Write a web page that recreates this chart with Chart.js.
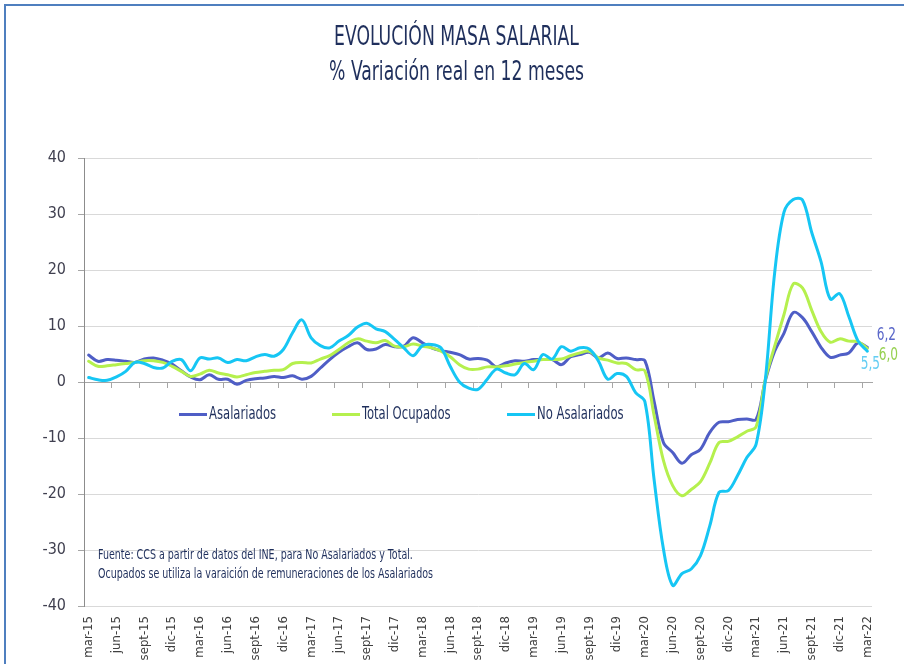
<!DOCTYPE html>
<html>
<head>
<meta charset="utf-8">
<script src="https://cdn.jsdelivr.net/npm/chart.js@4.4.1/dist/chart.umd.min.js"></script>
<style>
  body { margin: 0; background: #fff; }
  #wrap { position: relative; width: 904px; height: 664px; overflow: hidden;
          font-family: "Liberation Sans Narrow", "DejaVu Sans Condensed", sans-serif; color: #1f2f5c; }
  #frame { position: absolute; left: 4px; top: 4px; width: 950px; height: 720px;
           border-top: 2px solid #4f7fbf; border-left: 2px solid #4f7fbf; }
  #myChart { position: absolute; left: 0; top: 0; }
  .title { position: absolute; left: 0; width: 913px; text-align: center; font-size: 27px; line-height: 30px;
           transform: scaleX(0.71); transform-origin: 456.5px 0; }
  .leg { position: absolute; top: 403px; font-size: 17px; line-height: 20px; white-space: nowrap; }
  .leg span { display: inline-block; width: 28px; height: 3px; vertical-align: middle; margin-right: 2px; }
  .leg b { display: inline-block; font-weight: normal; transform: scaleX(0.76); transform-origin: 0 0; }
  #note { position: absolute; left: 98px; top: 545px; font-size: 14px; line-height: 19px; white-space: nowrap;
          transform: scaleX(0.755); transform-origin: 0 0; }
</style>
</head>
<body>
<div id="wrap">
  <div id="frame"></div>
  <canvas id="myChart" width="904" height="664"></canvas>
  <div class="title" style="top:21px">EVOLUCIÓN MASA SALARIAL</div>
  <div class="title" style="top:56px">% Variación real en 12 meses</div>
  <div id="legend"></div>
  <div id="note">Fuente: CCS a partir de datos del INE, para No Asalariados y Total.<br>Ocupados se utiliza la varaición de remuneraciones de los Asalariados</div>
</div>
<script>
// months, mar-15 .. mar-22
var months = [
  'mar-15','abr-15','may-15','jun-15','jul-15','ago-15','sept-15','oct-15','nov-15','dic-15',
  'ene-16','feb-16','mar-16','abr-16','may-16','jun-16','jul-16','ago-16','sept-16','oct-16','nov-16','dic-16',
  'ene-17','feb-17','mar-17','abr-17','may-17','jun-17','jul-17','ago-17','sept-17','oct-17','nov-17','dic-17',
  'ene-18','feb-18','mar-18','abr-18','may-18','jun-18','jul-18','ago-18','sept-18','oct-18','nov-18','dic-18',
  'ene-19','feb-19','mar-19','abr-19','may-19','jun-19','jul-19','ago-19','sept-19','oct-19','nov-19','dic-19',
  'ene-20','feb-20','mar-20','abr-20','may-20','jun-20','jul-20','ago-20','sept-20','oct-20','nov-20','dic-20',
  'ene-21','feb-21','mar-21','abr-21','may-21','jun-21','jul-21','ago-21','sept-21','oct-21','nov-21','dic-21',
  'ene-22','feb-22','mar-22'
];

var asalariados = [
  4.8, 3.7, 4.0, 3.9, 3.7, 3.5, 4.1, 4.3, 3.9, 3.2,
  2.0, 0.9, 0.4, 1.3, 0.5, 0.5, -0.4, 0.3, 0.6, 0.7, 1.0, 0.8,
  1.1, 0.5, 1.0, 2.5, 4.0, 5.3, 6.3, 7.0, 5.8, 5.9, 6.7, 6.3,
  6.4, 7.9, 7.0, 6.1, 5.6, 5.3, 4.9, 4.1, 4.2, 3.9, 2.7, 3.4,
  3.8, 3.7, 4.0, 4.0, 4.0, 3.1, 4.5, 4.9, 5.3, 4.3, 5.2, 4.2,
  4.3, 4.0, 3.8, -3.5, -10.8, -12.6, -14.5, -13.0, -12.0, -9.0, -7.2, -7.1,
  -6.7, -6.6, -6.7, 0.3, 5.5, 8.7, 12.4, 11.5, 9.0, 6.2, 4.4, 4.8,
  5.2, 7.0, 6.2
];

var totalOcupados = [
  3.7, 2.8, 2.9, 3.1, 3.3, 3.5, 3.8, 3.8, 3.5, 2.8,
  1.9, 1.0, 1.4, 2.1, 1.6, 1.3, 0.9, 1.3, 1.7, 1.9, 2.1, 2.2,
  3.3, 3.5, 3.4, 4.1, 4.7, 5.8, 7.0, 7.7, 7.3, 7.0, 7.4, 6.4,
  6.3, 6.8, 6.4, 6.1, 5.5, 4.5, 3.1, 2.3, 2.3, 2.7, 2.7, 2.9,
  3.2, 3.5, 3.7, 4.0, 4.0, 4.1, 4.7, 5.2, 5.5, 4.3, 3.9, 3.4,
  3.3, 2.2, 2.0, -6.0, -14.0, -18.5, -20.3, -19.2, -17.8, -14.5, -10.8, -10.6,
  -9.8, -8.8, -8.0, 0.5, 6.4, 12.0, 17.5, 16.8, 12.8, 9.0, 7.1, 7.7,
  7.3, 7.2, 6.0
];

var noAsalariados = [
  0.8, 0.4, 0.3, 0.9, 1.9, 3.5, 3.3, 2.6, 2.5, 3.7,
  4.0, 2.0, 4.3, 4.1, 4.3, 3.5, 4.0, 3.8, 4.5, 4.9, 4.6, 5.8,
  8.8, 11.1, 7.9, 6.5, 6.1, 7.3, 8.3, 9.8, 10.5, 9.5, 9.0, 7.6,
  6.1, 4.7, 6.5, 6.7, 6.1, 2.8, 0.0, -1.1, -1.3, 0.5, 2.3, 1.6,
  1.3, 3.3, 2.2, 4.9, 4.1, 6.3, 5.5, 6.1, 5.9, 3.7, 0.5, 1.5,
  1.0, -1.9, -3.5, -17.5, -29.8, -36.3, -34.2, -33.4, -31.0, -25.7, -19.7, -19.4,
  -16.7, -13.5, -11.1, 0.5, 19.5, 30.3, 32.6, 32.5, 26.7, 21.5, 14.8, 15.8,
  11.7, 7.3, 5.5
];

var yTicks = [-40, -30, -20, -10, 0, 10, 20, 30, 40];

var seriesNames = ['Asalariados', 'Total Ocupados', 'No Asalariados'];
var seriesColors = ['#4f5ec6', '#b5f04e', '#16c6f4'];
var labelColors = ['#5a67c9', '#95d04f', '#63cdf3'];

var fontFam = '"Liberation Sans Narrow", "DejaVu Sans Condensed", sans-serif';

// legend inside the plot
var legendLeft = [179, 332, 507];
var legHtml = '';
for (var i = 0; i < seriesNames.length; i++) {
  legHtml += '<div class="leg" style="left:' + legendLeft[i] + 'px"><span style="background:' +
    seriesColors[i] + '"></span><b>' + seriesNames[i] + '</b></div>';
}
document.getElementById('legend').innerHTML = legHtml;

// value labels at the last point of each line
var endLabels = {
  id: 'endLabels',
  afterDatasetsDraw: function (chart) {
    var ctx = chart.ctx;
    var off = [[19, -12], [21, 7], [3, 13]];
    chart.data.datasets.forEach(function (ds, k) {
      var meta = chart.getDatasetMeta(k);
      var pt = meta.data[meta.data.length - 1];
      var v = ds.data[ds.data.length - 1];
      ctx.save();
      ctx.translate(pt.x + off[k][0], pt.y + off[k][1]);
      ctx.scale(0.75, 1);
      ctx.font = '18px ' + fontFam;
      ctx.textAlign = 'center';
      ctx.textBaseline = 'middle';
      ctx.fillStyle = labelColors[k];
      ctx.fillText(v.toFixed(1).replace('.', ','), 0, 0);
      ctx.restore();
    });
  }
};

function everyThird(ctx) {
  return ctx.index % 3 === 0 ? '#a6a6a6' : 'rgba(0,0,0,0)';
}

new Chart('myChart', {
  type: 'line',
  data: {
    labels: months,
    datasets: [
      { label: seriesNames[0], data: asalariados, borderColor: seriesColors[0], order: 3 },
      { label: seriesNames[1], data: totalOcupados, borderColor: seriesColors[1], order: 2 },
      { label: seriesNames[2], data: noAsalariados, borderColor: seriesColors[2], order: 1 }
    ]
  },
  options: {
    responsive: false,
    animation: false,
    events: [],
    layout: { padding: { left: 0, top: 158, right: 32, bottom: 0 } },
    elements: {
      point: { radius: 0 },
      line: { borderWidth: 3, tension: 0.35, fill: false, borderCapStyle: 'round', borderJoinStyle: 'round' }
    },
    plugins: {
      legend: { display: false },
      tooltip: { enabled: false }
    },
    scales: {
      x: {
        type: 'category',
        offset: true,
        border: { display: false },
        grid: { display: false, drawTicks: false },
        afterFit: function (scale) { scale.height = 58; },
        ticks: {
          autoSkip: false,
          minRotation: 90,
          maxRotation: 90,
          padding: 10,
          color: '#404040',
          font: { family: fontFam, size: 13 },
          callback: function (val, idx) { return idx % 3 === 0 ? this.getLabelForValue(val) : ''; }
        }
      },
      x2: {
        type: 'category',
        labels: months,
        offset: true,
        position: { y: 0 },
        border: { display: true, color: '#a6a6a6', width: 1 },
        grid: { offset: true, drawOnChartArea: false, drawTicks: true, tickLength: 5, color: everyThird },
        ticks: { display: false, autoSkip: false }
      },
      y: {
        min: -40,
        max: 40,
        afterFit: function (scale) { scale.width = 84; },
        afterBuildTicks: function (scale) {
          scale.ticks = yTicks.map(function (v) { return { value: v }; });
        },
        border: { display: true, color: '#8c8c8c', width: 1 },
        grid: { color: '#d9d9d9', tickLength: 6, tickColor: '#a6a6a6' },
        ticks: {
          padding: 12,
          color: '#404050',
          font: { family: fontFam, size: 16 }
        }
      }
    }
  },
  plugins: [endLabels]
});
</script>
</body>
</html>
